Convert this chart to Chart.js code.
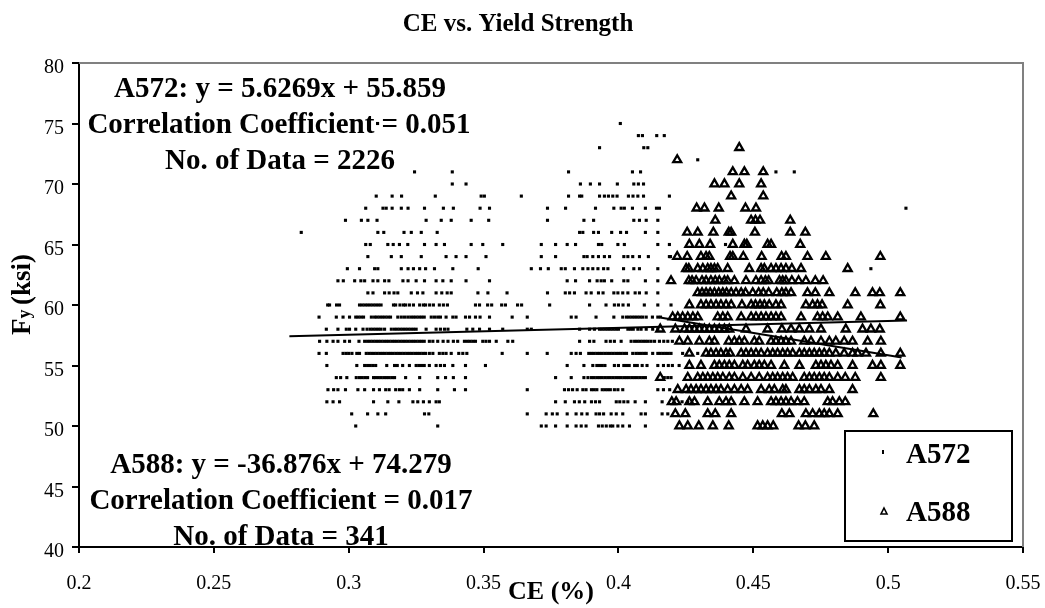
<!DOCTYPE html>
<html>
<head>
<meta charset="utf-8">
<title>CE vs. Yield Strength</title>
<script src="https://cdn.jsdelivr.net/npm/chart.js@4"></script>
<style>
  body { margin: 0; background: #fff; }
  canvas { display: block; }
</style>
</head>
<body>
<canvas id="chart" width="1045" height="608"></canvas>
<script>
const xTicks = [0.2, 0.25, 0.3, 0.35, 0.4, 0.45, 0.5, 0.55];
const yTicks = [40, 45, 50, 55, 60, 65, 70, 75, 80];

// A572: Fy row (ksi) and the CE values read along that row
const a572Fy = [75, 74, 73, 72, 71, 70, 69, 68, 67, 66, 65, 64, 63, 62, 61, 60, 59, 58, 57, 56, 55, 54, 53, 52, 51, 50];
const a572Ce = [
  [.3107, .4007],
  [.4074, .4089, .4142, .417],
  [.393, .4094, .4109],
  [.4294],
  [.3244, .3384, .3815, .4052, .4082, .4584, .4652],
  [.3384, .3435, .3859, .3896, .393, .3996, .4057, .4074, .4093],
  [.3102, .3161, .3196, .3321, .3491, .3503, .364, .3815, .3856, .3864, .393, .3948, .3963, .3979, .3995, .4037, .4054, .4072, .4093, .4189],
  [.3063, .3127, .3139, .3161, .3195, .322, .3281, .3351, .3388, .3487, .3522, .3737, .3804, .3915, .3983, .401, .4022, .4052, .41, .4141, .4152, .5066],
  [.2988, .3047, .3071, .3105, .3287, .3343, .338, .3454, .3519, .3737, .3872, .3908, .4057, .4078, .4103, .4146],
  [.2824, .3108, .313, .3205, .3232, .3269, .3328, .3856, .3868, .3908, .3926, .3975, .4008, .403, .41, .4146],
  [.3063, .308, .3145, .3165, .3188, .3219, .3281, .3324, .3355, .3454, .3497, .3571, .3714, .3767, .381, .3841, .3926, .3938, .3998, .4022, .4146, .4189, .4397],
  [.3071, .3158, .3195, .3269, .3361, .3398, .3435, .3509, .3714, .3767, .3872, .3884, .3905, .3926, .3948, .3967, .402, .4035, .4053, .4078, .4111, .4189, .4193],
  [.2995, .304, .3096, .3108, .3195, .322, .324, .3263, .3285, .3318, .3386, .348, .3677, .3711, .374, .3788, .3803, .3837, .3868, .3887, .3905, .3924, .3945, .3961, .4019, .4057, .4078, .4146, .4936],
  [.296, .298, .3022, .3045, .3059, .309, .3108, .3133, .3149, .3201, .322, .325, .3281, .3324, .3349, .338, .3435, .3522, .381, .3841, .3893, .3921, .3936, .3948, .3975, .402, .4035, .41, .4146],
  [.3071, .309, .3133, .315, .3168, .3182, .3232, .3255, .3275, .3324, .3345, .3365, .338, .3479, .3516, .3587, .3737, .3803, .3819, .3837, .388, .3899, .3926, .3943, .3983, .3998, .4016, .4035, .4062, .4078, .4103, .4146],
  [.2922, .2929, .2955, .2966, .304, .305, .306, .307, .308, .309, .31, .311, .312, .3166, .3174, .319, .3203, .3211, .3225, .324, .3263, .3277, .3285, .33, .3314, .3336, .3351, .3366, .347, .3485, .3515, .353, .3567, .3581, .3626, .3641, .3745, .3893, .3954, .3985, .4, .4017, .4037, .4096, .4146, .4195],
  [.289, .2954, .2979, .3003, .3026, .3035, .3045, .3055, .3084, .3096, .3105, .3115, .3125, .3135, .3145, .3155, .3182, .3195, .3207, .3219, .323, .324, .325, .326, .327, .328, .3306, .3318, .333, .334, .3361, .3386, .3398, .3433, .3448, .347, .3487, .3522, .3606, .3662, .3825, .3843, .3917, .3983, .4016, .403, .404, .405, .406, .407, .408, .409, .4103, .4126, .4146, .4156],
  [.2917, .296, .2991, .3003, .3026, .3053, .3068, .308, .309, .31, .311, .312, .3133, .3158, .317, .318, .319, .32, .321, .322, .323, .324, .325, .3287, .3324, .334, .3355, .3368, .3438, .346, .3485, .3522, .3571, .3662, .3677, .3856, .3893, .3911, .393, .394, .395, .396, .397, .398, .399, .4, .4035, .4045, .4055, .4072, .4084, .4103, .4127, .4146],
  [.2892, .2919, .2942, .296, .2985, .3003, .3038, .3059, .307, .308, .309, .31, .311, .312, .313, .314, .315, .316, .317, .318, .319, .32, .321, .322, .323, .324, .325, .326, .327, .328, .3299, .3312, .333, .335, .3368, .3388, .3404, .3429, .344, .345, .346, .347, .3497, .3509, .3522, .3547, .359, .3608, .3856, .3893, .3909, .3954, .397, .3985, .401, .4047, .406, .407, .408, .409, .41, .411, .4121, .4134, .4152, .4168, .4183, .42],
  [.289, .2917, .2979, .299, .3, .3012, .303, .304, .3065, .3075, .3085, .3095, .3105, .3115, .3125, .3135, .3145, .3155, .3165, .3175, .3185, .3195, .3205, .3215, .3225, .3235, .3245, .3255, .3265, .3275, .3285, .3299, .3312, .3336, .3349, .3361, .338, .3408, .3423, .3438, .3569, .3662, .3736, .3825, .3843, .3859, .389, .39, .391, .392, .393, .394, .395, .396, .397, .398, .399, .4, .401, .402, .403, .4053, .4065, .4075, .4085, .4095, .4103, .4127, .4146, .4155, .4165, .4175, .4185, .4195, .4238, .4294],
  [.2919, .303, .3059, .307, .308, .309, .31, .3141, .317, .318, .32, .3225, .325, .326, .327, .328, .3299, .3324, .334, .3355, .3386, .3433, .3507, .381, .3872, .3905, .392, .393, .394, .395, .3985, .4, .402, .403, .404, .406, .407, .4088, .4106, .4146, .4167, .4185, .42, .4225],
  [.2954, .297, .2993, .3028, .304, .305, .306, .307, .3092, .31, .311, .312, .313, .314, .315, .316, .317, .3211, .3263, .333, .3359, .3388, .3433, .3767, .3825, .3872, .3887, .39, .391, .392, .393, .394, .395, .396, .397, .398, .399, .4, .401, .402, .403, .404, .405, .406, .407, .408, .409, .41, .417, .4183, .4195],
  [.2923, .2944, .296, .2988, .3034, .3059, .3092, .3114, .3137, .315, .3174, .3188, .32, .3225, .3263, .333, .3392, .3433, .3662, .38, .3815, .383, .3847, .3868, .388, .39, .391, .392, .394, .395, .396, .397, .3985, .3998, .4016, .4146, .4167, .419],
  [.2919, .2942, .2966, .3092, .3145, .3186, .3238, .3256, .3277, .3299, .3324, .3336, .3767, .3803, .3837, .3855, .3875, .39, .3915, .393, .3992, .4005, .402, .4035, .4062, .41, .4162, .4236, .4257],
  [.3011, .307, .3108, .3137, .3281, .3297, .3662, .3732, .3755, .3773, .381, .3843, .3864, .3884, .3917, .393, .3945, .3973, .3992, .4016, .4084, .41, .4162, .4183],
  [.3026, .333, .3714, .3732, .3767, .381, .3843, .3862, .388, .3926, .394, .3955, .397, .3979, .3998, .4016, .4041, .41]
];

// A588: same idea, triangles
const a588Fy = [73, 72, 71, 70, 69, 68, 67, 66, 65, 64, 63, 62, 61, 60, 59, 58, 57, 56, 55, 54, 53, 52, 51, 50];
const a588Ce = [
  [.4448],
  [.4218],
  [.4424, .4467, .4537],
  [.4356, .4393, .4448, .4529],
  [.4418, .4537],
  [.429, .4319, .4372, .4471, .451],
  [.4359, .4492, .4508, .4525, .4637],
  [.4255, .4294, .4352, .4409, .4418, .4506, .4637, .4693],
  [.4263, .43, .434, .4424, .4467, .4476, .4553, .4566, .4674],
  [.4218, .4255, .4306, .4325, .4337, .4414, .4424, .4463, .4531, .4605, .4621, .4701, .4769, .4971],
  [.4251, .4261, .4294, .4313, .4331, .4343, .4356, .4368, .4405, .4485, .4529, .4541, .4566, .4584, .4603, .4621, .4643, .4677, .485],
  [.4195, .4261, .4273, .4288, .431, .4325, .4343, .4359, .4374, .4393, .4405, .443, .4473, .451, .4529, .4545, .4557, .4597, .4609, .4621, .4643, .4668, .4695, .473, .4759],
  [.4294, .431, .4325, .434, .4356, .4372, .4387, .4401, .4418, .4436, .4455, .4471, .4498, .452, .4537, .4557, .4587, .4606, .4621, .464, .4701, .473, .4782, .4878, .4942, .4969, .5045],
  [.4263, .4306, .4325, .4343, .4362, .438, .4399, .4418, .4458, .4492, .4508, .4525, .4541, .4559, .4584, .4603, .4695, .472, .4738, .4755, .485, .4971],
  [.4201, .422, .4238, .4257, .4276, .4294, .4368, .4387, .4405, .4455, .4492, .451, .4529, .4547, .4566, .4584, .4603, .4677, .4738, .4757, .4776, .4813, .4899, .5045],
  [.4155, .4211, .4245, .4263, .4282, .43, .4319, .4337, .4356, .4374, .4393, .4411, .4473, .4553, .4606, .464, .4671, .4708, .4751, .4843, .4905, .4936, .4969],
  [.4226, .4257, .43, .4337, .4356, .4409, .443, .4448, .4467, .4504, .4522, .4566, .4584, .4603, .4621, .464, .4689, .4714, .4751, .4782, .4806, .4837, .4868, .4924, .4973],
  [.4263, .4325, .4343, .4362, .438, .4399, .4414, .4455, .4473, .4492, .451, .4529, .4553, .4572, .459, .4609, .4627, .4646, .4671, .4689, .4708, .4726, .4745, .4763, .4782, .4806, .4837, .4868, .4887, .4918, .4973, .5045],
  [.4263, .4306, .4356, .4374, .4393, .4411, .443, .4461, .4479, .4504, .4522, .4541, .4566, .4615, .4671, .4732, .4751, .4769, .4788, .4813, .4868, .4942, .4973, .5045],
  [.4155, .4257, .4294, .4313, .4331, .435, .4368, .4387, .4411, .443, .4461, .4492, .4522, .4553, .4572, .459, .4609, .4627, .4646, .4689, .4708, .4726, .4745, .4763, .4782, .4813, .4841, .4878, .4973],
  [.422, .4251, .4269, .4288, .4306, .4325, .4343, .4362, .438, .4405, .443, .4455, .4479, .4529, .4559, .4578, .4609, .4621, .4671, .4689, .4708, .4732, .4751, .4782, .4868],
  [.4198, .4214, .4263, .4282, .4331, .4374, .4399, .4418, .4467, .4516, .4566, .4584, .4603, .4621, .464, .4664, .4689, .4776, .4794, .4819, .4841],
  [.4211, .4248, .4331, .4359, .4418, .4606, .4634, .4695, .472, .4745, .4763, .4782, .4813, .4945],
  [.4226, .4257, .4298, .435, .4409, .4516, .4535, .4553, .4574, .4668, .4693, .4726]
];

// trend lines, end points
const trendA572X = [.278, .507];
const trendA572Y = [57.42, 58.71];
const trendA588X = [.416, .505];
const trendA588Y = [58.94, 55.66];

function toPoints(fyRows, ceRows) {
  return fyRows.flatMap((fy, i) => ceRows[i].map(ce => ({ x: ce, y: fy })));
}

function toLine(xs, ys) {
  return xs.map((x, i) => ({ x: x, y: ys[i] }));
}

const SERIF = '"Liberation Serif", "Times New Roman", serif';

const notes = [
  { text: 'A572: y = 5.6269x + 55.859', x: 280, y: 97 },
  { text: 'Correlation Coefficient = 0.051', x: 279, y: 133 },
  { text: 'No. of Data = 2226', x: 280, y: 169 },
  { text: 'A588: y = -36.876x + 74.279', x: 281, y: 473 },
  { text: 'Correlation Coefficient = 0.017', x: 281, y: 509 },
  { text: 'No. of Data = 341', x: 281, y: 545 }
];

const decorations = {
  id: 'decorations',
  beforeDatasetsDraw(chart) {
    const ctx = chart.ctx;
    const a = chart.chartArea;
    ctx.save();
    // top and right frame are grey, left and bottom come from the scales
    ctx.strokeStyle = '#808080';
    ctx.lineWidth = 2;
    ctx.beginPath();
    ctx.moveTo(a.left, a.top);
    ctx.lineTo(a.right, a.top);
    ctx.lineTo(a.right, a.bottom);
    ctx.stroke();
    ctx.restore();
  },
  afterDraw(chart) {
    const ctx = chart.ctx;
    ctx.save();
    ctx.fillStyle = '#000';
    ctx.textBaseline = 'alphabetic';

    ctx.textAlign = 'center';
    ctx.font = 'bold 25px ' + SERIF;
    ctx.fillText('CE vs. Yield Strength', 518, 31);

    ctx.font = 'bold 29px ' + SERIF;
    notes.forEach(n => ctx.fillText(n.text, n.x, n.y));

    // legend box
    ctx.fillStyle = '#fff';
    ctx.fillRect(845, 431, 167, 110);
    ctx.strokeStyle = '#000';
    ctx.lineWidth = 2;
    ctx.strokeRect(845, 431, 167, 110);
    ctx.fillStyle = '#000';
    ctx.fillRect(882, 450, 2, 4);
    ctx.lineWidth = 1.6;
    ctx.beginPath();
    ctx.moveTo(884, 508);
    ctx.lineTo(887, 514);
    ctx.lineTo(881, 514);
    ctx.closePath();
    ctx.stroke();
    ctx.textAlign = 'left';
    ctx.font = 'bold 29px ' + SERIF;
    ctx.fillText('A572', 906, 463);
    ctx.fillText('A588', 906, 521);

    // y axis title, the y is set smaller
    ctx.translate(30, 335);
    ctx.rotate(-Math.PI / 2);
    ctx.font = 'bold 27px ' + SERIF;
    ctx.fillText('F', 0, 0);
    let w = ctx.measureText('F').width;
    ctx.font = 'bold 18px ' + SERIF;
    ctx.fillText('y', w, 0);
    w += ctx.measureText('y ').width;
    ctx.font = 'bold 27px ' + SERIF;
    ctx.fillText('(ksi)', w, 0);
    ctx.restore();
  }
};

new Chart(document.getElementById('chart'), {
  type: 'scatter',
  data: {
    datasets: [
      {
        label: 'A572 trend',
        data: toLine(trendA572X, trendA572Y),
        showLine: true,
        borderColor: '#000',
        borderWidth: 2,
        pointRadius: 0,
        order: 0
      },
      {
        label: 'A588 trend',
        data: toLine(trendA588X, trendA588Y),
        showLine: true,
        borderColor: '#000',
        borderWidth: 2,
        pointRadius: 0,
        order: 0
      },
      {
        label: 'A572',
        data: toPoints(a572Fy, a572Ce),
        pointStyle: 'rect',
        pointRadius: 2.2,
        pointBackgroundColor: '#000',
        pointBorderWidth: 0,
        order: 2
      },
      {
        label: 'A588',
        data: toPoints(a588Fy, a588Ce),
        pointStyle: 'triangle',
        pointRadius: 4.6,
        pointBackgroundColor: 'rgba(255,255,255,0)',
        pointBorderColor: '#000',
        pointBorderWidth: 2.3,
        order: 1
      }
    ]
  },
  options: {
    responsive: false,
    animation: false,
    layout: { padding: { top: 63, right: 22, left: 0, bottom: 0 } },
    plugins: {
      legend: { display: false },
      tooltip: { enabled: false }
    },
    scales: {
      x: {
        type: 'linear',
        min: 0.2,
        max: 0.55,
        afterBuildTicks(s) { s.ticks = xTicks.map(v => ({ value: v })); },
        afterFit(s) { s.height = 61; s.paddingLeft = 0; s.paddingRight = 0; },
        border: { color: '#000', width: 2 },
        grid: { drawOnChartArea: false, color: '#000', tickLength: 6, lineWidth: 2 },
        ticks: {
          color: '#000',
          padding: 19,
          maxRotation: 0,
          font: { family: SERIF, size: 20 },
          callback: v => String(v)
        },
        title: {
          display: true,
          text: 'CE (%)',
          color: '#000',
          font: { family: SERIF, size: 26, weight: 'bold' },
          padding: { top: 0, bottom: 0 }
        }
      },
      y: {
        type: 'linear',
        min: 40,
        max: 80,
        afterBuildTicks(s) { s.ticks = yTicks.map(v => ({ value: v })); },
        afterFit(s) { s.width = 79; s.paddingTop = 0; s.paddingBottom = 0; },
        border: { color: '#000', width: 2 },
        grid: { drawOnChartArea: false, color: '#000', tickLength: 7, lineWidth: 2 },
        ticks: {
          color: '#000',
          padding: 8,
          labelOffset: 5,
          font: { family: SERIF, size: 20 },
          callback: v => String(v)
        }
      }
    }
  },
  plugins: [decorations]
});
</script>
</body>
</html>
